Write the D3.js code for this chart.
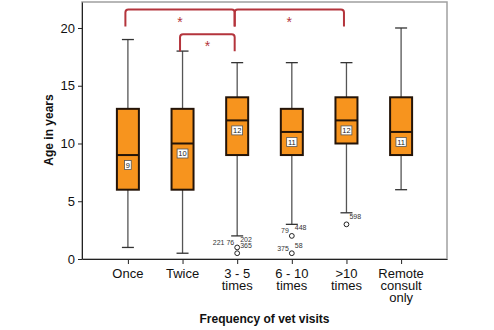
<!DOCTYPE html>
<html>
<head>
<meta charset="utf-8">
<script src="https://cdn.jsdelivr.net/npm/d3@7"></script>
<style>
  body { margin: 0; background: #fff; }
  svg { font-family: "Liberation Sans", Arial, sans-serif; }
</style>
</head>
<body>
<svg id="chart" width="494" height="330"></svg>
<script>
// visit frequency groups (multi-line tick labels)
const groups = ["Once", "Twice", "3 - 5|times", "6 - 10|times", ">10|times", "Remote|consult|only"];

// box summaries, age in years
const whiskerLow  = [1, 0.5, 2, 3, 4, 6];
const quartile1   = [6, 6, 9, 9, 10, 9];
const medians     = [9, 10, 12, 11, 12, 11];
const quartile3   = [13, 13, 14, 13, 14, 14];
const whiskerHigh = [19, 18, 17, 17, 17, 20];

// outliers: group index, age, case numbers
const outlierGroup = [2, 2, 3, 3, 4];
const outlierAge   = [1, 0.5, 2, 0.5, 3];
const outlierCases = [["221", "76", "202"], ["365"], ["79", "448"], ["375", "58"], ["598"]];

// significant pairwise differences (group indices) and bracket height in years
const sigFrom  = [0, 2, 1];
const sigTo    = [2, 4, 2];
const sigLevel = [21.6, 21.6, 19.45];

const yTicks = [0, 5, 10, 15, 20];

const svg = d3.select("#chart");
const plotLeft = 82, plotRight = 447, plotTop = 2, plotBottom = 259;

const x = d3.scalePoint()
    .domain(d3.range(groups.length))
    .range([plotLeft, plotRight])
    .padding(0.84);

const y = d3.scaleLinear()
    .domain([0, 22.25])
    .range([plotBottom, plotTop]);

// frame
svg.append("rect")
    .attr("x", plotLeft).attr("y", plotTop)
    .attr("width", plotRight - plotLeft).attr("height", plotBottom - plotTop)
    .attr("fill", "none")
    .attr("stroke", "#a0a0a0")
    .attr("stroke-width", 1.5);

// y axis
const yAxis = svg.append("g")
    .attr("transform", `translate(${plotLeft},0)`)
    .call(d3.axisLeft(y).tickValues(yTicks).tickSize(4).tickSizeOuter(0));
yAxis.select(".domain").attr("stroke", "#222");
yAxis.selectAll(".tick line").attr("stroke", "#222");
yAxis.selectAll("text").attr("font-size", 13).attr("fill", "#111")
    .attr("font-family", "Liberation Sans, Arial, sans-serif");

// x axis
const xAxis = svg.append("g")
    .attr("transform", `translate(0,${plotBottom})`)
    .call(d3.axisBottom(x).tickSize(5).tickSizeOuter(0).tickFormat(""));
xAxis.select(".domain").attr("stroke", "#222");
xAxis.selectAll(".tick line").attr("stroke", "#222");

// one text element per label line
const xLines = groups.flatMap((d, i) => d.split("|").map((t, j) => ({ i, j, t })));
svg.append("g")
    .selectAll("text")
    .data(xLines)
    .join("text")
    .attr("x", d => x(d.i))
    .attr("y", d => 277.5 + d.j * 12)
    .attr("text-anchor", "middle")
    .attr("font-size", 13)
    .attr("fill", "#111")
    .text(d => d.t);

// axis titles
svg.append("text")
    .attr("transform", "translate(52.5,130) rotate(-90)")
    .attr("text-anchor", "middle")
    .attr("font-size", 12)
    .attr("font-weight", "bold")
    .attr("fill", "#111")
    .text("Age in years");

svg.append("text")
    .attr("x", (plotLeft + plotRight) / 2)
    .attr("y", 322.5)
    .attr("text-anchor", "middle")
    .attr("font-size", 12)
    .attr("font-weight", "bold")
    .attr("fill", "#111")
    .text("Frequency of vet visits");

// boxes
const boxW = 22, capW = 12;
const boxes = svg.append("g")
    .selectAll("g")
    .data(d3.range(groups.length))
    .join("g")
    .attr("transform", i => `translate(${x(i)},0)`);

// whiskers
boxes.append("line")
    .attr("y1", i => y(whiskerLow[i])).attr("y2", i => y(quartile1[i]))
    .attr("stroke", "#555").attr("stroke-width", 1.3);
boxes.append("line")
    .attr("y1", i => y(quartile3[i])).attr("y2", i => y(whiskerHigh[i]))
    .attr("stroke", "#555").attr("stroke-width", 1.3);
boxes.append("line")
    .attr("x1", -capW / 2).attr("x2", capW / 2)
    .attr("y1", i => y(whiskerLow[i])).attr("y2", i => y(whiskerLow[i]))
    .attr("stroke", "#333").attr("stroke-width", 1.3);
boxes.append("line")
    .attr("x1", -capW / 2).attr("x2", capW / 2)
    .attr("y1", i => y(whiskerHigh[i])).attr("y2", i => y(whiskerHigh[i]))
    .attr("stroke", "#333").attr("stroke-width", 1.3);

boxes.append("rect")
    .attr("x", -boxW / 2)
    .attr("y", i => y(quartile3[i]))
    .attr("width", boxW)
    .attr("height", i => y(quartile1[i]) - y(quartile3[i]))
    .attr("fill", "#f7941e")
    .attr("stroke", "#241408")
    .attr("stroke-width", 2);

boxes.append("line")
    .attr("x1", -boxW / 2).attr("x2", boxW / 2)
    .attr("y1", i => y(medians[i])).attr("y2", i => y(medians[i]))
    .attr("stroke", "#241408").attr("stroke-width", 2);

// median value labels
boxes.each(function(i) {
    const g = d3.select(this);
    const cy = y(medians[i]) + 10;
    const txt = g.append("text")
        .attr("text-anchor", "middle")
        .attr("y", cy + 2.6)
        .attr("font-size", 7.5)
        .attr("fill", "#222")
        .text(medians[i]);
    const w = txt.node().getComputedTextLength() + 2.5;
    g.insert("rect", "text")
        .attr("x", -w / 2).attr("y", cy - 4.5)
        .attr("width", w).attr("height", 9)
        .attr("fill", "#fff")
        .attr("stroke", "#555")
        .attr("stroke-width", 0.8);
});

// outliers
const outliers = svg.append("g")
    .selectAll("g")
    .data(d3.range(outlierAge.length))
    .join("g")
    .attr("transform", k => `translate(${x(outlierGroup[k])},${y(outlierAge[k])})`);

outliers.append("circle")
    .attr("r", 2.4)
    .attr("fill", "#fff")
    .attr("stroke", "#222")
    .attr("stroke-width", 1);

// case numbers: earlier ones to the left, the last one up and to the right
outliers.each(function(k) {
    const g = d3.select(this);
    const cases = outlierCases[k];
    const lab = (t, anchor, dx, dy) => g.append("text")
        .attr("x", dx).attr("y", dy)
        .attr("text-anchor", anchor)
        .attr("font-size", 7)
        .attr("fill", "#333")
        .text(t);
    if (cases.length === 1) {
        lab(cases[0], "start", 3, -5);
    } else {
        lab(cases.slice(0, -1).join(" "), "end", -3, -2.5);
        lab(cases[cases.length - 1], "start", 3, -5.5);
    }
});

// significance brackets
const red = "#b4343c";
const legDrop = 17;
sigFrom.forEach((a, k) => {
    const x1 = x(a) - 2.5, x2 = x(sigTo[k]) - 2.5;
    const yt = y(sigLevel[k]);
    const r = 3;
    svg.append("path")
        .attr("d", `M${x1},${yt + legDrop} L${x1},${yt + r} Q${x1},${yt} ${x1 + r},${yt}
                    L${x2 - r},${yt} Q${x2},${yt} ${x2},${yt + r} L${x2},${yt + legDrop}`)
        .attr("fill", "none")
        .attr("stroke", red)
        .attr("stroke-width", 2);
    svg.append("text")
        .attr("x", (x1 + x2) / 2)
        .attr("y", yt + 17)
        .attr("text-anchor", "middle")
        .attr("font-size", 14)
        .attr("fill", red)
        .text("*");
});
</script>
</body>
</html>
